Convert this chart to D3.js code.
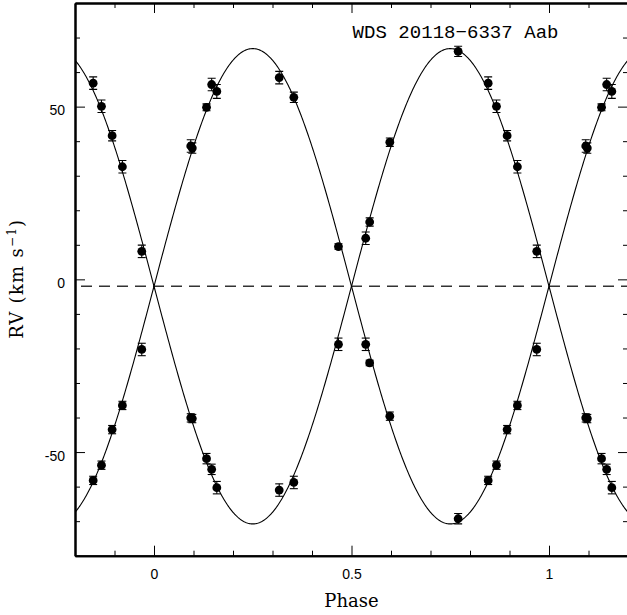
<!DOCTYPE html>
<html>
<head>
<meta charset="utf-8">
<script src="https://cdn.jsdelivr.net/npm/d3@7"></script>
<style>
  html, body { margin: 0; padding: 0; background: #fff; }
  svg { display: block; }
</style>
</head>
<body>
<svg id="chart" width="627" height="615"></svg>
<script>
// ---- data ----
const phases = [0.093, 0.097, 0.133, 0.146, 0.159, 0.317, 0.354, 0.467, 0.536, 0.546,
                0.597, 0.770, 0.846, 0.867, 0.894, 0.920, 0.969];
const rvPrimary = [-40.1, -40.3, -51.9, -55.0, -60.3, -61.0, -58.8, -18.8, 11.9, 16.6,
                   39.7, 66.0, 56.8, 50.1, 41.6, 32.6, 8.1];
const errPrimary = [1.2, 1.2, 1.5, 1.5, 1.8, 1.8, 1.8, 1.8, 1.8, 1.2,
                    1.2, 1.5, 1.8, 1.8, 1.5, 1.8, 1.8];
const rvSecondary = [38.6, 38.0, 49.8, 56.4, 54.4, 58.4, 52.7, 9.5, -18.8, -24.2,
                     -39.6, -69.3, -58.2, -53.8, -43.5, -36.5, -20.3];
const errSecondary = [1.8, 1.5, 1.0, 1.8, 2.0, 1.8, 1.5, 0.8, 1.8, 0.8,
                      1.2, 1.5, 1.2, 1.2, 1.2, 1.2, 1.8];
// orbital fit (circular orbit)
const gammaV = -2.0;
const K1 = 68.8;
const K2 = 68.8;
const xMajorTicks = [0, 0.5, 1];
const xTickLabels = ["0", "0.5", "1"];
const yMajorTicks = [-50, 0, 50];
const yTickLabels = ["-50", "0", "50"];
const chartTitle = "WDS 20118\u22126337 Aab";

// ---- layout ----
const svg = d3.select("#chart");
const mLeft = 75, mRight = 628, mTop = 3, mBottom = 555.7;
const x = d3.scaleLinear().domain([-0.2, 1.2]).range([mLeft, mRight]);
const y = d3.scaleLinear().domain([-80, 80]).range([mBottom, mTop]);

const xMinor = d3.range(-0.2, 1.2001, 0.1).map(v => +v.toFixed(2)).filter(v => !xMajorTicks.includes(v));
const yMinor = d3.range(-80, 80.001, 10).filter(v => !yMajorTicks.includes(v));

svg.append("defs").append("clipPath").attr("id", "clip")
  .append("rect").attr("x", mLeft).attr("y", mTop).attr("width", mRight - mLeft).attr("height", mBottom - mTop);

const plot = svg.append("g").attr("clip-path", "url(#clip)");

// systemic velocity dashed line
plot.append("line")
  .attr("x1", x(-0.2)).attr("x2", x(1.2))
  .attr("y1", y(gammaV)).attr("y2", y(gammaV))
  .attr("stroke", "#333").attr("stroke-width", 1.3)
  .attr("stroke-dasharray", "11,7").attr("stroke-dashoffset", -6);

// fitted curves
const grid = d3.range(-0.2, 1.2001, 0.002);
const line = d3.line().x(d => x(d[0])).y(d => y(d[1]));
plot.append("path")
  .attr("d", line(grid.map(p => [p, gammaV - K1 * Math.sin(2 * Math.PI * p)])))
  .attr("fill", "none").attr("stroke", "#000").attr("stroke-width", 1.1);
plot.append("path")
  .attr("d", line(grid.map(p => [p, gammaV + K2 * Math.sin(2 * Math.PI * p)])))
  .attr("fill", "none").attr("stroke", "#000").attr("stroke-width", 1.1);

// points, repeated over the extended phase range
const pts = [];
phases.forEach((p, i) => {
  [-1, 0, 1].forEach(s => {
    const ph = p + s;
    if (ph >= -0.2 && ph <= 1.2) {
      pts.push({ph, v: rvPrimary[i], e: errPrimary[i]});
      pts.push({ph, v: rvSecondary[i], e: errSecondary[i]});
    }
  });
});
const capW = 4;
const eg = plot.append("g").attr("stroke", "#000").attr("stroke-width", 1.1);
pts.forEach(d => {
  const cx = x(d.ph);
  eg.append("line").attr("x1", cx).attr("x2", cx).attr("y1", y(d.v - d.e)).attr("y2", y(d.v + d.e));
  eg.append("line").attr("x1", cx - capW).attr("x2", cx + capW).attr("y1", y(d.v - d.e)).attr("y2", y(d.v - d.e));
  eg.append("line").attr("x1", cx - capW).attr("x2", cx + capW).attr("y1", y(d.v + d.e)).attr("y2", y(d.v + d.e));
});
plot.append("g").selectAll("circle").data(pts).join("circle")
  .attr("cx", d => x(d.ph)).attr("cy", d => y(d.v)).attr("r", 4.4).attr("fill", "#000");

// ---- axes ----
function styleAxis(g) {
  g.select(".domain").attr("stroke-width", 2).attr("stroke", "#000");
  g.selectAll(".tick line").attr("stroke", "#000").attr("stroke-width", 1);
}
const tickFont = "'Liberation Sans', Arial, sans-serif";

// bottom
const gB = svg.append("g").attr("transform", `translate(0,${mBottom})`)
  .call(d3.axisBottom(x).tickValues(xMajorTicks).tickSize(-10).tickSizeOuter(0)
        .tickFormat((d, i) => xTickLabels[i]));
gB.call(styleAxis);
gB.selectAll("text").attr("y", 23).attr("dy", 0).attr("font-size", 14).attr("font-family", tickFont).attr("fill", "#000");
svg.append("g").attr("transform", `translate(0,${mBottom})`)
  .call(d3.axisBottom(x).tickValues(xMinor).tickSize(-5).tickSizeOuter(0).tickFormat(""))
  .call(styleAxis);

// top
svg.append("g").attr("transform", `translate(0,${mTop})`)
  .call(d3.axisTop(x).tickValues(xMajorTicks).tickSize(-10).tickSizeOuter(0).tickFormat(""))
  .call(styleAxis);
svg.append("g").attr("transform", `translate(0,${mTop})`)
  .call(d3.axisTop(x).tickValues(xMinor).tickSize(-5).tickSizeOuter(0).tickFormat(""))
  .call(styleAxis);

// left
const gL = svg.append("g").attr("transform", `translate(${mLeft},0)`)
  .call(d3.axisLeft(y).tickValues(yMajorTicks).tickSize(-10).tickSizeOuter(0)
        .tickFormat((d, i) => yTickLabels[i]));
gL.call(styleAxis);
gL.selectAll("text").attr("x", -10).attr("dy", "0.57em").attr("font-size", 14).attr("font-family", tickFont).attr("fill", "#000");
svg.append("g").attr("transform", `translate(${mLeft},0)`)
  .call(d3.axisLeft(y).tickValues(yMinor).tickSize(-5).tickSizeOuter(0).tickFormat(""))
  .call(styleAxis);

// right
svg.append("g").attr("transform", `translate(${mRight},0)`)
  .call(d3.axisRight(y).tickValues(yMajorTicks).tickSize(-10).tickSizeOuter(0).tickFormat(""))
  .call(styleAxis);
svg.append("g").attr("transform", `translate(${mRight},0)`)
  .call(d3.axisRight(y).tickValues(yMinor).tickSize(-5).tickSizeOuter(0).tickFormat(""))
  .call(styleAxis);

// ---- titles ----
const serif = "'DejaVu Serif', serif";
svg.append("text").attr("x", 351.5).attr("y", 606.5).attr("text-anchor", "middle")
  .attr("font-family", serif).attr("font-size", 18).attr("fill", "#000").text("Phase");

const yt = svg.append("text").attr("transform", `translate(23,${(mTop + mBottom) / 2}) rotate(-90)`)
  .attr("text-anchor", "middle").attr("font-family", serif).attr("font-size", 18).attr("fill", "#000")
  .attr("textLength", 119).attr("lengthAdjust", "spacing");
yt.append("tspan").text("RV (km s");
yt.append("tspan").attr("font-size", 12).attr("dy", -7).text("\u22121");
yt.append("tspan").attr("dy", 7).text(")");

svg.append("text").attr("x", 352.5).attr("y", 37.5)
  .attr("font-family", "'Liberation Mono', 'Courier New', monospace").attr("font-size", 19)
  .attr("fill", "#000").attr("textLength", 206).attr("lengthAdjust", "spacing").text(chartTitle);
</script>
</body>
</html>
